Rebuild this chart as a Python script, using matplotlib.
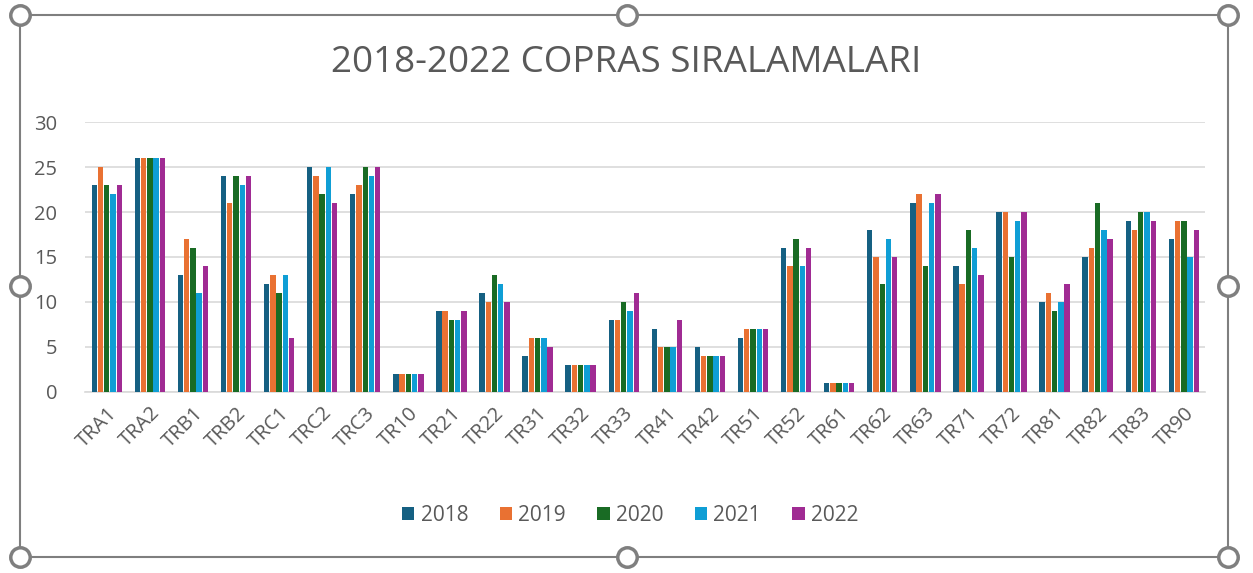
import numpy as np
import matplotlib
matplotlib.use("Agg")
import matplotlib.pyplot as plt

regions = ["TRA1", "TRA2", "TRB1", "TRB2", "TRC1", "TRC2", "TRC3", "TR10", "TR21",
           "TR22", "TR31", "TR32", "TR33", "TR41", "TR42", "TR51", "TR52", "TR61",
           "TR62", "TR63", "TR71", "TR72", "TR81", "TR82", "TR83", "TR90"]
years = ["2018", "2019", "2020", "2021", "2022"]

rank_2018 = [23, 26, 13, 24, 12, 25, 22, 2, 9, 11, 4, 3, 8, 7, 5, 6, 16, 1, 18, 21, 14, 20, 10, 15, 19, 17]
rank_2019 = [25, 26, 17, 21, 13, 24, 23, 2, 9, 10, 6, 3, 8, 5, 4, 7, 14, 1, 15, 22, 12, 20, 11, 16, 18, 19]
rank_2020 = [23, 26, 16, 24, 11, 22, 25, 2, 8, 13, 6, 3, 10, 5, 4, 7, 17, 1, 12, 14, 18, 15, 9, 21, 20, 19]
rank_2021 = [22, 26, 11, 23, 13, 25, 24, 2, 8, 12, 6, 3, 9, 5, 4, 7, 14, 1, 17, 21, 16, 19, 10, 18, 20, 15]
rank_2022 = [23, 26, 14, 24, 6, 21, 25, 2, 9, 10, 5, 3, 11, 8, 4, 7, 16, 1, 15, 22, 13, 20, 12, 17, 19, 18]

series = [rank_2018, rank_2019, rank_2020, rank_2021, rank_2022]
colors = ["#156082", "#E97132", "#196B24", "#0F9ED5", "#A02B93"]

text_col = "#595959"
plt.rcParams["font.family"] = ["Open Sans", "DejaVu Sans"]

fig = plt.figure(figsize=(12.53, 5.73), dpi=100)
ax = fig.add_axes([0.068, 0.316, 0.894, 0.471])

x = np.arange(len(regions))
step = 0.145
width = 0.125
for i, (vals, yr) in enumerate(zip(series, years)):
    ax.bar(x + (i - 2) * step, vals, width, color=colors[i], label=yr, zorder=3)

ax.set_xlim(-0.5, len(regions) - 0.5)
ax.set_ylim(0, 30)
ax.set_yticks(range(0, 31, 5))
ax.grid(axis="y", color="#d9d9d9", linewidth=1.2, zorder=0)
for s in ["top", "right", "left"]:
    ax.spines[s].set_visible(False)
ax.spines["bottom"].set_color("#d9d9d9")
ax.spines["bottom"].set_linewidth(1.2)
ax.tick_params(axis="both", length=0, colors=text_col, labelsize=14.5)
ax.tick_params(axis="y", pad=20)
ax.set_xticks(x)
ax.set_xticklabels(regions, rotation=45, ha="right", rotation_mode="anchor")
ax.tick_params(axis="x", pad=8)

fig.text(0.5, 0.89, "2018-2022 COPRAS SIRALAMALARI", ha="center", va="center",
         fontsize=26.5, color=text_col)

leg = fig.legend(loc="center", bbox_to_anchor=(0.503, 0.1), ncol=5, frameon=False,
                 fontsize=15, handlelength=0.6, handleheight=0.6, handletextpad=0.3,
                 columnspacing=1.5)
for t in leg.get_texts():
    t.set_color(text_col)

# selection frame with handles (Excel-style)
frame = plt.Rectangle((20 / 1253, 1 - 557 / 573), 1208 / 1253, 542 / 573,
                      transform=fig.transFigure, fill=False, edgecolor="#7f7f7f", linewidth=1.5)
fig.add_artist(frame)
for px in [20, 627, 1228]:
    for py in [15, 286, 557]:
        if px == 627 and py == 286:
            continue
        fig.add_artist(plt.Line2D([px / 1253], [1 - py / 573], marker="o", markersize=14,
                                  markerfacecolor="white", markeredgecolor="#7f7f7f",
                                  markeredgewidth=2.5, transform=fig.transFigure))

fig.savefig("out.png", dpi=100)
